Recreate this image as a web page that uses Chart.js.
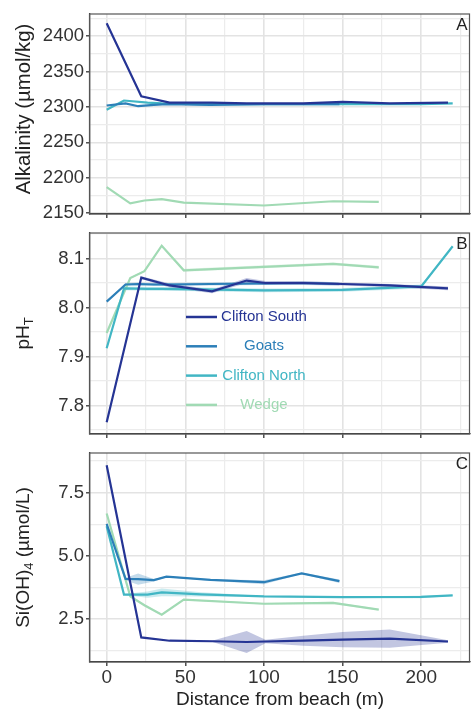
<!DOCTYPE html>
<html>
<head>
<meta charset="utf-8">
<script src="https://cdn.jsdelivr.net/npm/chart.js@4.4.0/dist/chart.umd.min.js"></script>
<style>
  html, body { margin: 0; padding: 0; background: #fff; }
  #wrap { position: relative; width: 471px; height: 709px; }
  canvas { position: absolute; left: 0; }
</style>
</head>
<body>
<div id="wrap">
  <canvas id="alkChart" width="471" height="225" style="top:0"></canvas>
  <canvas id="phChart" width="471" height="220" style="top:225px"></canvas>
  <canvas id="siChart" width="471" height="264" style="top:445px"></canvas>
</div>
<script>
const sites = ['Clifton South', 'Goats', 'Clifton North', 'Wedge'];
const siteColors = ['#253494', '#2c7fb8', '#41b6c4', '#a1dab4'];

// distance from beach (m) of the stations of each site
const distCliftonSouth = [0, 22, 40, 67, 89, 101, 125, 150, 180, 217];
const distGoats = [0, 12, 20, 30, 38, 66, 100, 124, 148];
const distCliftonNorth = [0, 11, 26, 35, 60, 100, 150, 200, 220];
const distWedge = [0, 15, 24, 35, 49, 100, 144, 173];

// A - alkalinity (umol/kg)
const alkCliftonSouth = [2418, 2315, 2306, 2306, 2305, 2305, 2305, 2307, 2305, 2306];
const alkGoats = [2302, 2305, 2301, 2303, 2304, 2303, 2304, 2304, 2304];
const alkCliftonNorth = [2296, 2309, 2306, 2305, 2304, 2304, 2304, 2304, 2305];
const alkWedge = [2187, 2164, 2168, 2170, 2165, 2161, 2167, 2166];

// B - pH (total scale) and half width of the shaded band
const phCliftonSouth = [7.766, 8.061, 8.045, 8.033, 8.055, 8.050, 8.050, 8.048, 8.045, 8.039];
const phCliftonSouthBand = [0, 0.003, 0.004, 0.004, 0.005, 0.004, 0.004, 0.003, 0.003, 0.004];
const phGoats = [8.012, 8.047, 8.048, 8.047, 8.047, 8.048, 8.049, 8.050, 8.048];
const phGoatsBand = [0, 0.003, 0.003, 0.003, 0.003, 0.003, 0.003, 0.003, 0.003];
const phCliftonNorth = [7.917, 8.039, 8.038, 8.038, 8.037, 8.035, 8.036, 8.043, 8.125];
const phCliftonNorthBand = [0, 0.004, 0.004, 0.004, 0.004, 0.004, 0.004, 0.004, 0];
const phWedge = [7.948, 8.060, 8.074, 8.126, 8.076, 8.083, 8.089, 8.082];
const phWedgeBand = [0, 0.002, 0.002, 0.002, 0.003, 0.003, 0.003, 0.003];

// C - silicate (umol/L) and half width of the shaded band
const siCliftonSouth = [8.58, 1.78, 1.65, 1.63, 1.60, 1.62, 1.65, 1.69, 1.73, 1.62];
const siCliftonSouthBand = [0, 0, 0, 0.02, 0.43, 0.07, 0.2, 0.3, 0.36, 0.05];
const siGoats = [6.26, 4.09, 4.08, 4.04, 4.18, 4.05, 3.96, 4.31, 4.00];
const siGoatsBand = [0, 0.05, 0.22, 0.05, 0.02, 0.03, 0.08, 0.03, 0.07];
const siCliftonNorth = [6.17, 3.47, 3.47, 3.56, 3.48, 3.40, 3.37, 3.38, 3.44];
const siCliftonNorthBand = [0, 0.02, 0.12, 0.15, 0.08, 0.02, 0.02, 0.05, 0.02];
const siWedge = [6.67, 3.40, 3.05, 2.68, 3.27, 3.11, 3.14, 2.88];
const siWedgeBand = [0, 0.05, 0.05, 0.03, 0.03, 0.03, 0.05, 0.03];

// axis ticks
const distTicks = [0, 50, 100, 150, 200];
const alkTicks = [2150, 2200, 2250, 2300, 2350, 2400];
const phTicks = [7.8, 7.9, 8.0, 8.1];
const siTicks = [2.5, 5.0, 7.5];

const FONT = '"Liberation Sans", Arial, Helvetica, sans-serif';
const siteDist = [distCliftonSouth, distGoats, distCliftonNorth, distWedge];

function withAlpha(hex, a) {
    const n = parseInt(hex.slice(1), 16);
    return 'rgba(' + (n >> 16) + ',' + ((n >> 8) & 255) + ',' + (n & 255) + ',' + a + ')';
}

function buildDatasets(values, bands) {
    const lines = [];
    const ribbons = [];
    sites.forEach(function(name, i) {
        const xs = siteDist[i];
        lines.push({
            label: name,
            data: xs.map((x, j) => ({x: x, y: values[i][j]})),
            borderColor: siteColors[i],
            borderWidth: 2.2,
            pointRadius: 0,
            tension: 0,
            fill: false
        });
        if (bands) {
            ribbons.push({
                label: name + ' upper',
                data: xs.map((x, j) => ({x: x, y: values[i][j] + bands[i][j]})),
                borderWidth: 0,
                pointRadius: 0,
                fill: false
            });
            ribbons.push({
                label: name + ' lower',
                data: xs.map((x, j) => ({x: x, y: values[i][j] - bands[i][j]})),
                borderWidth: 0,
                pointRadius: 0,
                backgroundColor: withAlpha(siteColors[i], 0.28),
                fill: '-1'
            });
        }
    });
    // first dataset is painted last, so lines go first to sit above the bands
    return lines.concat(ribbons);
}

function withMinor(majors, lo, hi) {
    const step = majors[1] - majors[0];
    const all = [];
    majors.forEach(m => {
        all.push(m);
        if (m + step / 2 <= hi) all.push(m + step / 2);
        if (m === majors[0] && m - step / 2 >= lo) all.push(m - step / 2);
    });
    return all.sort((a, b) => a - b);
}

function isMajor(majors, v) {
    return majors.some(m => Math.abs(m - v) < 1e-9);
}

function gridFor(majors) {
    return {
        color: c => (c.tick && isMajor(majors, c.tick.value)) ? '#e3e3e3' : '#ececec',
        lineWidth: c => (c.tick && isMajor(majors, c.tick.value)) ? 1.6 : 1.2,
        tickColor: c => (c.tick && isMajor(majors, c.tick.value)) ? '#333' : 'rgba(0,0,0,0)',
        tickLength: 4,
        tickWidth: 1.3,
        drawTicks: true
    };
}

const yTitlePlugin = {
    id: 'yTitle',
    afterDraw(chart, args, opts) {
        if (!opts.parts) return;
        const ctx = chart.ctx, area = chart.chartArea;
        const size = opts.size || 19;
        const big = size + 'px ' + FONT, small = Math.round(size * 0.7) + 'px ' + FONT;
        ctx.save();
        let total = 0;
        const widths = opts.parts.map(p => {
            ctx.font = p.sub ? small : big;
            const w = ctx.measureText(p.text).width;
            total += w;
            return w;
        });
        ctx.translate(24, (area.top + area.bottom) / 2 + (opts.shift || 0));
        ctx.rotate(-Math.PI / 2);
        ctx.fillStyle = '#222';
        ctx.textBaseline = 'middle';
        ctx.textAlign = 'left';
        let cx = -total / 2;
        opts.parts.forEach((p, i) => {
            ctx.font = p.sub ? small : big;
            ctx.fillText(p.text, cx, p.sub ? 5 : 0);
            cx += widths[i];
        });
        ctx.restore();
    }
};

const panelPlugin = {
    id: 'panelDeco',
    afterDraw(chart, args, opts) {
        const ctx = chart.ctx, a = chart.chartArea;
        ctx.save();
        ctx.strokeStyle = '#555';
        ctx.lineWidth = 1.2;
        ctx.strokeRect(a.left - 0.5, a.top, a.right - a.left, a.bottom - a.top);
        ctx.fillStyle = '#222';
        ctx.font = '17px ' + FONT;
        ctx.textAlign = 'center';
        ctx.textBaseline = 'middle';
        ctx.fillText(opts.letter, a.right - 8, a.top + 11.5);
        if (opts.legend) {
            ctx.font = '15px ' + FONT;
            sites.forEach((name, i) => {
                const y = a.top + 84 + i * 29.3;
                ctx.strokeStyle = siteColors[i];
                ctx.lineWidth = 2.5;
                ctx.beginPath();
                ctx.moveTo(a.left + 96, y);
                ctx.lineTo(a.left + 127, y);
                ctx.stroke();
                ctx.fillStyle = siteColors[i];
                ctx.fillText(name, a.left + 174, y);
            });
        }
        ctx.restore();
    }
};

function makeChart(id, cfg) {
    const xAll = withMinor(distTicks, -10.6, 231);
    const yAll = withMinor(cfg.yTicks, cfg.yMin, cfg.yMax);
    return new Chart(document.getElementById(id).getContext('2d'), {
        type: 'line',
        data: {datasets: buildDatasets(cfg.values, cfg.bands)},
        options: {
            responsive: false,
            animation: false,
            layout: {padding: {top: cfg.top, right: 1, left: 0, bottom: 0}, autoPadding: false},
            plugins: {
                legend: {display: false},
                tooltip: {enabled: false},
                yTitle: {parts: cfg.title, size: cfg.titleSize, shift: cfg.titleShift},
                panelDeco: {letter: cfg.letter, legend: !!cfg.legend}
            },
            scales: {
                x: {
                    type: 'linear',
                    min: -10.6,
                    max: 231,
                    afterBuildTicks: s => { s.ticks = xAll.map(v => ({value: v})); },
                    afterFit: s => { s.height = cfg.xHeight; s.paddingLeft = 0; s.paddingRight = 0; },
                    grid: gridFor(distTicks),
                    border: {display: true, color: '#333', width: 1.3},
                    ticks: {
                        autoSkip: false,
                        maxRotation: 0,
                        padding: 0,
                        color: '#333',
                        font: {family: FONT, size: 19},
                        callback: v => (cfg.xLabels && isMajor(distTicks, v)) ? String(v) : ''
                    },
                    title: {
                        display: !!cfg.xLabels,
                        text: 'Distance from beach (m)',
                        color: '#222',
                        padding: 0,
                        font: {family: FONT, size: 19, lineHeight: 1}
                    }
                },
                y: {
                    min: cfg.yMin,
                    max: cfg.yMax,
                    afterBuildTicks: s => { s.ticks = yAll.map(v => ({value: v})); },
                    afterFit: s => { s.width = 90; s.paddingTop = 0; s.paddingBottom = 0; },
                    grid: gridFor(cfg.yTicks),
                    border: {display: true, color: '#333', width: 1.3},
                    ticks: {
                        autoSkip: false,
                        padding: 2,
                        color: '#333',
                        font: {family: FONT, size: 18.5},
                        callback: v => isMajor(cfg.yTicks, v) ? v.toFixed(cfg.decimals) : ''
                    }
                }
            }
        },
        plugins: [yTitlePlugin, panelPlugin]
    });
}

makeChart('alkChart', {
    values: [alkCliftonSouth, alkGoats, alkCliftonNorth, alkWedge],
    bands: null,
    yTicks: alkTicks, yMin: 2149, yMax: 2431, decimals: 0,
    top: 14, xHeight: 11, letter: 'A',
    title: [{text: 'Alkalinity (\u00b5mol/kg)'}], titleSize: 20.3, titleShift: -5
});

makeChart('phChart', {
    values: [phCliftonSouth, phGoats, phCliftonNorth, phWedge],
    bands: [phCliftonSouthBand, phGoatsBand, phCliftonNorthBand, phWedgeBand],
    yTicks: phTicks, yMin: 7.742, yMax: 8.152, decimals: 1,
    top: 8, xHeight: 11, letter: 'B', legend: true,
    title: [{text: 'pH'}, {text: 'T', sub: true}]
});

makeChart('siChart', {
    values: [siCliftonSouth, siGoats, siCliftonNorth, siWedge],
    bands: [siCliftonSouthBand, siGoatsBand, siCliftonNorthBand, siWedgeBand],
    yTicks: siTicks, yMin: 0.81, yMax: 9.06, decimals: 1,
    top: 8, xHeight: 47, letter: 'C', xLabels: true,
    title: [{text: 'Si(OH)'}, {text: '4', sub: true}, {text: ' (\u00b5mol/L)'}]
});
</script>
</body>
</html>
